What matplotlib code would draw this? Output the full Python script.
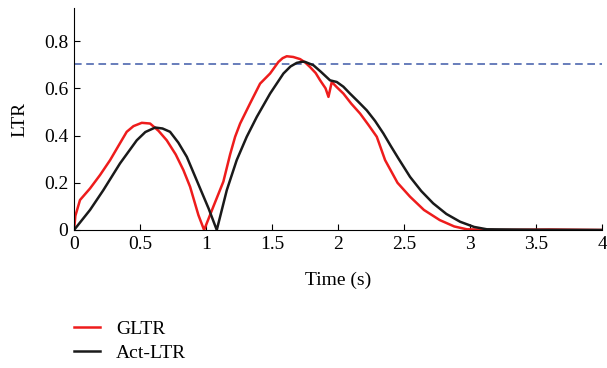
import matplotlib.pyplot as plt

# GLTR (red) curve
gltr_t = [0.0, 0.01, 0.045, 0.121, 0.197, 0.273, 0.34, 0.399, 0.45, 0.513, 0.576, 0.64,
          0.702, 0.77, 0.828, 0.879, 0.942, 0.985, 1.055, 1.131, 1.182, 1.22, 1.258,
          1.333, 1.409, 1.485, 1.548, 1.58, 1.611, 1.66, 1.712, 1.75, 1.788, 1.83,
          1.864, 1.905, 1.927, 1.952, 1.99, 2.04, 2.1, 2.167, 2.23, 2.293, 2.356, 2.45,
          2.545, 2.65, 2.77, 2.88, 2.975, 3.2, 3.6, 4.0]
gltr_v = [0.0, 0.06, 0.127, 0.176, 0.233, 0.296, 0.36, 0.416, 0.44, 0.454, 0.451, 0.42,
          0.38, 0.32, 0.254, 0.183, 0.063, 0.0, 0.099, 0.205, 0.32, 0.395, 0.451,
          0.536, 0.62, 0.663, 0.712, 0.728, 0.736, 0.733, 0.724, 0.71, 0.69, 0.665,
          0.634, 0.6, 0.564, 0.627, 0.605, 0.578, 0.535, 0.493, 0.445, 0.395, 0.296, 0.2,
          0.141, 0.085, 0.042, 0.015, 0.003, 0.0, 0.002, 0.0]

# Act-LTR (black) curve
act_t = [0.0, 0.121, 0.222, 0.348, 0.475, 0.54, 0.614, 0.67, 0.727, 0.79, 0.854, 0.955,
         1.02, 1.081, 1.157, 1.232, 1.308, 1.384, 1.485, 1.586, 1.64, 1.687, 1.73, 1.75,
         1.813, 1.87, 1.939, 1.99, 2.04, 2.09, 2.15, 2.217, 2.28, 2.343, 2.4, 2.457,
         2.545, 2.63, 2.72, 2.82, 2.924, 3.03, 3.127, 3.5, 4.0]
act_v = [0.0, 0.085, 0.169, 0.282, 0.38, 0.415, 0.434, 0.43, 0.416, 0.37, 0.31, 0.176,
         0.09, 0.0, 0.169, 0.296, 0.395, 0.479, 0.578, 0.663, 0.693, 0.708, 0.713, 0.712,
         0.698, 0.67, 0.634, 0.627, 0.607, 0.578, 0.545, 0.507, 0.462, 0.409, 0.355, 0.303,
         0.225, 0.165, 0.113, 0.068, 0.035, 0.013, 0.003, 0.001, 0.0]

threshold = 0.705

plt.rcParams['font.family'] = ['Liberation Serif', 'DejaVu Serif']
plt.rcParams['font.size'] = 14

fig = plt.figure(figsize=(6.07, 3.68), dpi=100)
ax = fig.add_axes([0.122, 0.375, 0.870, 0.603])

ax.axhline(threshold, color='#3f5aa8', linestyle=(0, (5, 3)), linewidth=1.1)
l1, = ax.plot(gltr_t, gltr_v, color='#ee1c1c', linewidth=1.8, label='GLTR')
l2, = ax.plot(act_t, act_v, color='#1a1a1a', linewidth=1.8, label='Act-LTR')

ax.set_xlim(0, 4)
ax.set_ylim(0, 0.94)
ax.set_xticks([0, 0.5, 1, 1.5, 2, 2.5, 3, 3.5, 4])
ax.set_xticklabels(['0', '0.5', '1', '1.5', '2', '2.5', '3', '3.5', '4'])
ax.set_yticks([0, 0.2, 0.4, 0.6, 0.8])
ax.set_yticklabels(['0', '0.2', '0.4', '0.6', '0.8'])
ax.tick_params(direction='in', length=4, width=0.8, pad=4)
ax.spines['top'].set_visible(False)
ax.spines['right'].set_visible(False)
ax.set_xlabel('Time (s)', labelpad=14)
ax.set_ylabel('LTR', labelpad=11)

fig.legend(handles=[l1, l2], loc='upper left', bbox_to_anchor=(0.122, 0.13),
           frameon=False, borderaxespad=0, borderpad=0,
           handlelength=1.35, handletextpad=0.8, labelspacing=0.35)

fig.savefig('out.png', dpi=100)
